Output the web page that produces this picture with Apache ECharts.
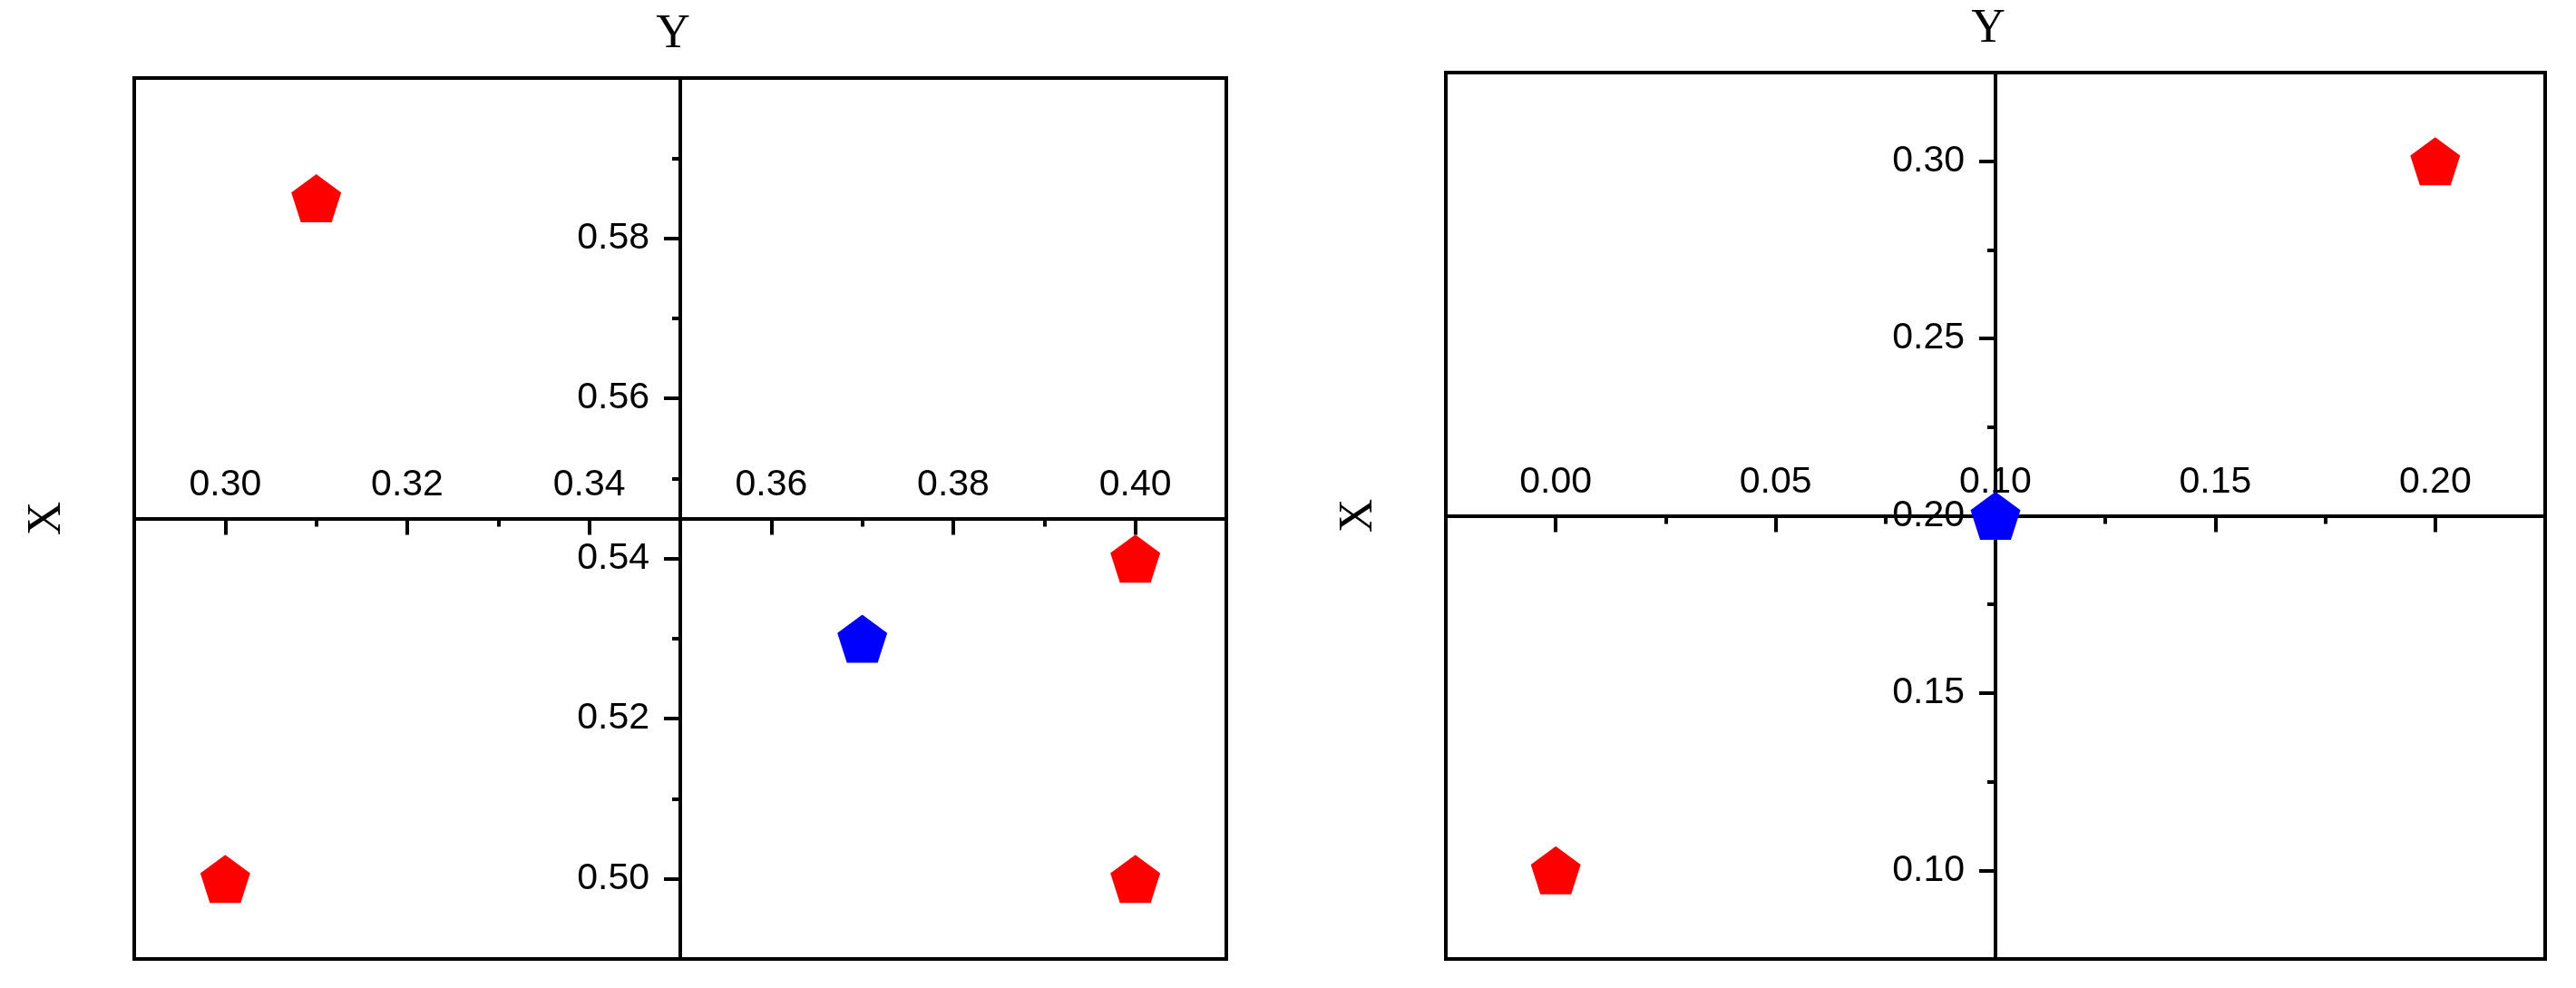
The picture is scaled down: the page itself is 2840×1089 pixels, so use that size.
<!DOCTYPE html>
<html>
<head>
<meta charset="utf-8">
<title>Quadrant scatter</title>
<script src="https://cdn.jsdelivr.net/npm/echarts@6/dist/echarts.min.js"></script>
<style>
  html, body { margin: 0; padding: 0; background: #ffffff; }
  #chart { width: 2840px; height: 1089px; }
</style>
</head>
<body>
<div id="chart"></div>
<script>
// left panel
const leftXRange = [0.29, 0.41];
const leftYRange = [0.49, 0.60];
const leftXTicks = [0.30, 0.32, 0.34, 0.36, 0.38, 0.40];
const leftXMinor = [0.31, 0.33, 0.35, 0.37, 0.39];
const leftYTicks = [0.50, 0.52, 0.54, 0.56, 0.58];
const leftYMinor = [0.51, 0.53, 0.55, 0.57, 0.59];
const leftXCross = 0.35;   // where the vertical axis sits
const leftYCross = 0.545;  // where the horizontal axis sits
const leftRed = [[0.31, 0.585], [0.30, 0.50], [0.40, 0.54], [0.40, 0.50]];
const leftBlue = [[0.37, 0.53]];

// right panel
const rightXRange = [-0.025, 0.225];
const rightYRange = [0.075, 0.325];
const rightXTicks = [0.00, 0.05, 0.10, 0.15, 0.20];
const rightXMinor = [0.025, 0.075, 0.125, 0.175];
const rightYTicks = [0.10, 0.15, 0.20, 0.25, 0.30];
const rightYMinor = [0.125, 0.175, 0.225, 0.275];
const rightXCross = 0.10;
const rightYCross = 0.20;
const rightRed = [[0.00, 0.10], [0.20, 0.30]];
const rightBlue = [[0.10, 0.20]];

const grids = [
  { left: 148, top: 86, width: 1204, height: 971 },
  { left: 1594, top: 80, width: 1212, height: 977 },
];

const pentagon = "path://M0,-100L95.1,-30.9L58.8,80.9L-58.8,80.9L-95.1,-30.9Z";
const labelFont = { color: "#000", fontFamily: "Liberation Sans", fontSize: 41 };
const nameFont = { color: "#000", fontFamily: "Liberation Serif", fontSize: 52 };

// pixel shift so an axis crosses the other one at a given value
function crossOffset(range, cross, size) {
  return -((cross - range[0]) / (range[1] - range[0])) * size;
}

function fmt(v) {
  return Number(v).toFixed(2);
}

function majorX(gridIndex, range, ticks, off) {
  return {
    type: "value",
    gridIndex: gridIndex,
    min: range[0],
    max: range[1],
    position: "bottom",
    offset: off,
    splitLine: { show: false },
    axisLine: { show: true, onZero: false, lineStyle: { color: "#000", width: 4 } },
    axisTick: { show: true, customValues: ticks, length: 18, lineStyle: { color: "#000", width: 4 } },
    axisLabel: { show: true, inside: true, customValues: ticks, margin: 16, formatter: fmt, ...labelFont },
  };
}

function minorX(gridIndex, range, ticks, off) {
  return {
    type: "value",
    gridIndex: gridIndex,
    min: range[0],
    max: range[1],
    position: "bottom",
    offset: off,
    splitLine: { show: false },
    axisLine: { show: false, onZero: false },
    axisTick: { show: true, customValues: ticks, length: 9, lineStyle: { color: "#000", width: 4 } },
    axisLabel: { show: false },
  };
}

function majorY(gridIndex, range, ticks, off) {
  return {
    type: "value",
    gridIndex: gridIndex,
    min: range[0],
    max: range[1],
    position: "left",
    offset: off,
    name: "Y",
    nameLocation: "end",
    nameGap: 22,
    nameTextStyle: { ...nameFont, padding: [0, 16, 0, 0] },
    splitLine: { show: false },
    axisLine: { show: true, onZero: false, lineStyle: { color: "#000", width: 4 } },
    axisTick: { show: true, customValues: ticks, length: 18, lineStyle: { color: "#000", width: 4 } },
    axisLabel: { show: true, customValues: ticks, margin: 34, formatter: fmt, ...labelFont },
  };
}

function minorY(gridIndex, range, ticks, off) {
  return {
    type: "value",
    gridIndex: gridIndex,
    min: range[0],
    max: range[1],
    position: "left",
    offset: off,
    splitLine: { show: false },
    axisLine: { show: false, onZero: false },
    axisTick: { show: true, customValues: ticks, length: 9, lineStyle: { color: "#000", width: 4 } },
    axisLabel: { show: false },
  };
}

// carries only the rotated "X" title at the left of each frame
function nameY(gridIndex, range) {
  return {
    type: "value",
    gridIndex: gridIndex,
    min: range[0],
    max: range[1],
    position: "left",
    name: "X",
    nameLocation: "middle",
    nameGap: 70,
    nameTextStyle: nameFont,
    splitLine: { show: false },
    axisLine: { show: false },
    axisTick: { show: false },
    axisLabel: { show: false },
  };
}

function dots(data, color, xi, yi) {
  return {
    type: "scatter",
    xAxisIndex: xi,
    yAxisIndex: yi,
    data: data,
    symbol: pentagon,
    symbolSize: [55, 53],
    itemStyle: { color: color, opacity: 1 },
    z: 5,
  };
}

const lxOff = crossOffset(leftYRange, leftYCross, grids[0].height);
const lyOff = crossOffset(leftXRange, leftXCross, grids[0].width);
const rxOff = crossOffset(rightYRange, rightYCross, grids[1].height);
const ryOff = crossOffset(rightXRange, rightXCross, grids[1].width);

const chart = echarts.init(document.getElementById("chart"), null, { renderer: "canvas" });

chart.setOption({
  backgroundColor: "#ffffff",
  animation: false,
  grid: grids.map((g) => ({
    ...g,
    show: true,
    borderColor: "#000",
    borderWidth: 4,
    backgroundColor: "transparent",
    containLabel: false,
  })),
  xAxis: [
    majorX(0, leftXRange, leftXTicks, lxOff),
    minorX(0, leftXRange, leftXMinor, lxOff),
    majorX(1, rightXRange, rightXTicks, rxOff),
    minorX(1, rightXRange, rightXMinor, rxOff),
  ],
  yAxis: [
    majorY(0, leftYRange, leftYTicks, lyOff),
    minorY(0, leftYRange, leftYMinor, lyOff),
    nameY(0, leftYRange),
    majorY(1, rightYRange, rightYTicks, ryOff),
    minorY(1, rightYRange, rightYMinor, ryOff),
    nameY(1, rightYRange),
  ],
  series: [
    dots(leftRed, "#ff0000", 0, 0),
    dots(leftBlue, "#0000ff", 0, 0),
    dots(rightRed, "#ff0000", 2, 3),
    dots(rightBlue, "#0000ff", 2, 3),
  ],
});
</script>
</body>
</html>
